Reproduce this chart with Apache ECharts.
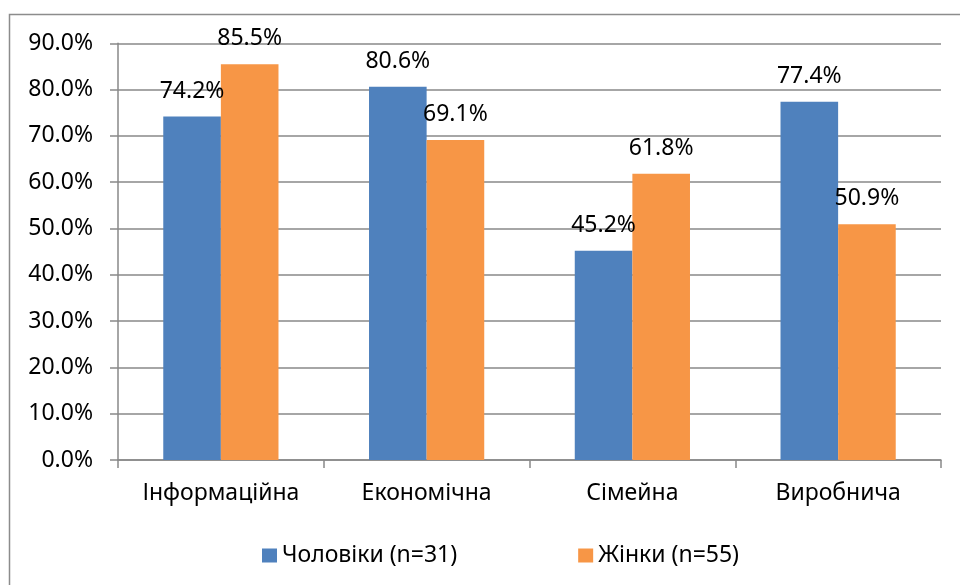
<!DOCTYPE html>
<html>
<head>
<meta charset="utf-8">
<script src="https://cdn.jsdelivr.net/npm/echarts@6/dist/echarts.min.js"></script>
<style>
  html, body { margin: 0; padding: 0; background: #fff; }
  #chart { width: 960px; height: 585px; }
</style>
</head>
<body>
<div id="chart"></div>
<script>
// Categories and shares (percent) by sex
const categories = ['Інформаційна', 'Економічна', 'Сімейна', 'Виробнича'];
const menLabel = 'Чоловіки (n=31)';
const womenLabel = 'Жінки (n=55)';
const menValues = [74.2, 80.6, 45.2, 77.4];
const womenValues = [85.5, 69.1, 61.8, 50.9];
const yTicks = { min: 0, max: 90, step: 10 };

const FONT = '"Noto Sans", "Open Sans", sans-serif';
const FS = 23;
const GRID_COLOR = '#898989';

const chart = echarts.init(document.getElementById('chart'), null, { renderer: 'canvas' });

const labelStyle = {
  show: true,
  position: 'top',
  distance: 14,
  color: '#000',
  fontFamily: FONT,
  fontSize: FS,
  formatter: p => p.value.toFixed(1) + '%'
};

chart.setOption({
  animation: false,
  backgroundColor: '#fff',
  textStyle: { fontFamily: FONT },
  graphic: [{
    type: 'rect',
    shape: { x: 9.5, y: 14.5, width: 1000, height: 700 },
    style: { fill: 'none', stroke: '#8c8c8c', lineWidth: 1.5 },
    silent: true,
    z: -10
  }],
  grid: { left: 118, right: 19, top: 43.3, bottom: 125 },
  legend: {
    left: 257,
    top: 539,
    icon: 'rect',
    itemWidth: 15,
    itemHeight: 14,
    itemGap: 121,
    textStyle: { color: '#000', fontFamily: FONT, fontSize: FS },
    data: [menLabel, womenLabel]
  },
  xAxis: {
    type: 'category',
    data: categories,
    axisLine: { lineStyle: { color: GRID_COLOR, width: 1.5 } },
    axisTick: { show: true, length: 8, inside: false, lineStyle: { color: GRID_COLOR, width: 1.5 } },
    axisLabel: { color: '#000', fontFamily: FONT, fontSize: FS, margin: 22 },
    splitLine: { show: false }
  },
  yAxis: {
    type: 'value',
    min: yTicks.min,
    max: yTicks.max,
    interval: yTicks.step,
    axisLine: { show: true, lineStyle: { color: GRID_COLOR, width: 1.5 } },
    axisTick: { show: true, length: 8, lineStyle: { color: GRID_COLOR, width: 1.5 } },
    axisLabel: {
      color: '#000', fontFamily: FONT, fontSize: FS, margin: 25,
      formatter: v => v.toFixed(1) + '%'
    },
    splitLine: { show: true, lineStyle: { color: GRID_COLOR, width: 1.5 } }
  },
  series: [
    {
      name: menLabel,
      type: 'bar',
      data: menValues,
      barGap: '0%',
      barCategoryGap: '44%',
      itemStyle: { color: '#4F81BD' },
      label: labelStyle
    },
    {
      name: womenLabel,
      type: 'bar',
      data: womenValues,
      barGap: '0%',
      barCategoryGap: '44%',
      itemStyle: { color: '#F79646' },
      label: labelStyle
    }
  ]
});
</script>
</body>
</html>
